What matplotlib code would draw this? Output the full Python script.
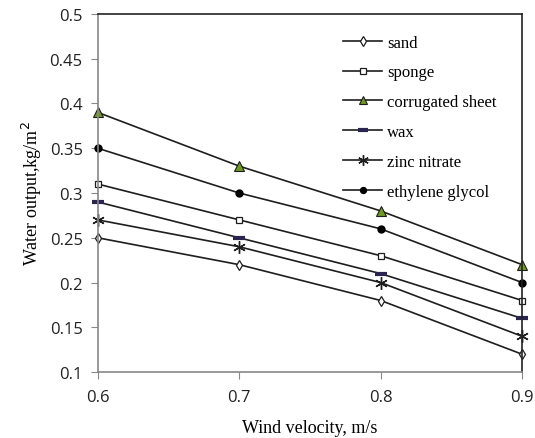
import matplotlib
matplotlib.use("Agg")
import matplotlib.pyplot as plt

wind = [0.6, 0.7, 0.8, 0.9]
sand = [0.25, 0.22, 0.18, 0.12]
sponge = [0.31, 0.27, 0.23, 0.18]
corrugated = [0.39, 0.33, 0.28, 0.22]
wax = [0.29, 0.25, 0.21, 0.16]
zinc = [0.27, 0.24, 0.20, 0.14]
ethylene = [0.35, 0.30, 0.26, 0.20]
labels = ["sand", "sponge", "corrugated sheet", "wax", "zinc nitrate", "ethylene glycol"]
xticks = [0.6, 0.7, 0.8, 0.9]
yticks = [0.1, 0.15, 0.2, 0.25, 0.3, 0.35, 0.4, 0.45, 0.5]

fig = plt.figure(figsize=(5.35, 4.39), dpi=100)
ax = fig.add_axes([0.183, 0.150, 0.793, 0.816])

lc = "#1e1e1e"
kw = dict(color=lc, lw=1.2, clip_on=False)
ax.plot(wind, sand, marker="d", ms=5.5, mfc="white", mec=lc, mew=0.9, label=labels[0], **kw)
ax.plot(wind, sponge, marker="s", ms=5, mfc="white", mec=lc, mew=0.9, label=labels[1], **kw)
ax.plot(wind, corrugated, marker="^", ms=7, mfc="#6e9a1e", mec=lc, mew=0.8, label=labels[2], **kw)
ax.plot(wind, wax, marker="_", ms=9, mec="#2a2450", mew=3, label=labels[3], **kw)
ax.plot(wind, zinc, marker=(6, 2, 0), ms=9, mec=lc, mew=1.0, label=labels[4], **kw)
ax.plot(wind, ethylene, marker="o", ms=5, mfc="black", mec="black", label=labels[5], **kw)

ax.set_xlim(0.6, 0.9)
ax.set_ylim(0.1, 0.5)
ax.set_xticks(xticks)
ax.set_xticklabels([f"{v:g}" for v in xticks])
ax.set_yticks(yticks)
ax.set_yticklabels([f"{v:g}" for v in yticks])
ax.tick_params(direction="out", length=5, color="#888888", labelsize=12)
for lab in ax.get_xticklabels() + ax.get_yticklabels():
    lab.set_family("Open Sans")
    lab.set_color("#222222")
ax.tick_params(axis="x", pad=7)
ax.tick_params(axis="y", pad=6)

for s in ["left", "bottom"]:
    ax.spines[s].set_color("#888888")
    ax.spines[s].set_linewidth(1.2)
for s in ["top", "right"]:
    ax.spines[s].set_color("#222222")
    ax.spines[s].set_linewidth(1.2)

ax.set_xlabel("Wind velocity, m/s", family="Liberation Serif", fontsize=13, labelpad=10)
ax.set_ylabel("Water output,kg/m$^2$", family="Liberation Serif", fontsize=13, labelpad=4)

leg = ax.legend(loc="upper left", bbox_to_anchor=(0.578, 0.9425), frameon=False,
                prop={"family": "Liberation Serif", "size": 12}, handlelength=2.35,
                labelspacing=0.83, handletextpad=0.3, borderaxespad=0, borderpad=0,
                markerscale=0.85)

fig.savefig("out.png", dpi=100)
